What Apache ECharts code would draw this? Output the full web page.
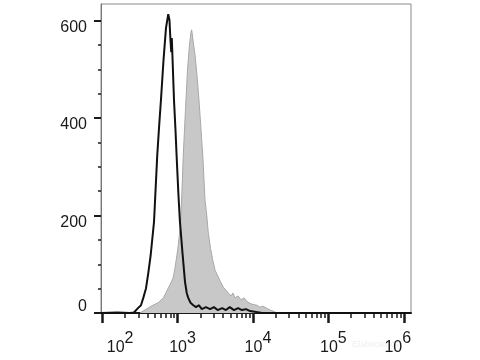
<!DOCTYPE html>
<html>
<head>
<meta charset="utf-8">
<script src="https://cdn.jsdelivr.net/npm/echarts@6/dist/echarts.min.js"></script>
<style>html,body{margin:0;padding:0;background:#fff;}#chart{width:480px;height:360px;}</style>
</head>
<body>
<div id="chart"></div>
<script>
// x values are log10 of fluorescence intensity
const controlLogFL = [1.98, 2.20, 2.367, 2.42, 2.473, 2.513, 2.544, 2.58, 2.61, 2.642, 2.686, 2.729, 2.752, 2.778, 2.812, 2.845, 2.875, 2.891, 2.904, 2.915, 2.922, 2.93, 2.951, 2.971, 2.987, 3.01, 3.03, 3.066, 3.097, 3.12, 3.14, 3.17, 3.207, 3.243, 3.28, 3.32, 3.375, 3.43, 3.48, 3.53, 3.59, 3.64, 3.69, 3.747, 3.80, 3.852, 3.906, 3.96, 4.04, 4.12, 6.09];
const controlCount = [0, 1, 0, 1, 10, 16, 31, 51, 82, 119, 187, 324, 379, 437, 519, 585, 613, 601, 560, 535, 564, 529, 437, 375, 318, 242, 187, 119, 64, 41, 31, 21, 16, 12, 16, 8, 12, 8, 12, 6, 10, 6, 12, 6, 10, 6, 8, 4, 2, 0, 0];

const stainedLogFL = [2.50, 2.54, 2.606, 2.672, 2.74, 2.81, 2.875, 2.91, 2.94, 2.964, 2.99, 3.008, 3.04, 3.057, 3.074, 3.103, 3.13, 3.156, 3.176, 3.186, 3.203, 3.23, 3.256, 3.282, 3.31, 3.336, 3.362, 3.385, 3.406, 3.435, 3.464, 3.495, 3.538, 3.568, 3.605, 3.64, 3.67, 3.707, 3.733, 3.76, 3.80, 3.84, 3.88, 3.92, 3.946, 3.985, 4.048, 4.09, 4.13, 4.18, 4.224, 4.264, 4.317];
const stainedCount = [0, 4, 10, 16, 21, 31, 51, 62, 72, 92, 119, 139, 187, 252, 324, 416, 498, 550, 576, 581, 560, 529, 488, 437, 375, 314, 232, 201, 164, 133, 109, 88, 74, 64, 53, 47, 41, 35, 41, 31, 35, 27, 31, 23, 27, 18, 16, 12, 14, 10, 6, 4, 0];

const decades = [2, 3, 4, 5, 6];
const yTicks = [0, 200, 400, 600];
const yUpperLabels = [200, 400, 600];
const yZeroLabel = [0];
const yMinorTicks = [50, 100, 150, 250, 300, 350, 450, 500, 550];

const minorTicks = [];
for (let d = 2; d < 6; d++) {
  for (let k = 2; k <= 9; k++) minorTicks.push(d + Math.log10(k));
}

const pair = (xs, ys) => xs.map((x, i) => [x, ys[i]]);

const chart = echarts.init(document.getElementById('chart'), null, {renderer: 'canvas'});
const FONT = 'Liberation Sans, Arial, sans-serif';
const INK = '#1a1a1a';
const txt = (extra) => Object.assign({fontSize: 16, fontFamily: FONT, color: INK}, extra);
chart.setOption({
  animation: false,
  backgroundColor: '#fff',
  grid: {left: 101, top: 4, right: 69, bottom: 47, show: true, borderColor: '#8a8a8a', borderWidth: 1},
  xAxis: [{
    type: 'value', min: 1.983, max: 6.094,
    splitLine: {show: false},
    axisLine: {show: true, lineStyle: {color: INK, width: 2}},
    axisTick: {show: true, customValues: decades, length: 10, lineStyle: {color: INK, width: 2.5}},
    axisLabel: {
      show: true, customValues: decades, margin: 18, color: INK, fontFamily: FONT,
      formatter: function (v) {
        const n = Math.round(v);
        if (n === 2) return '{f|10}{s|' + n + '}{sp| }';
        if (n === 6) return '{b|10}{l|' + n + '}{sp| }';
        return '{m|10}{s|' + n + '}{sp| }';
      },
      rich: {
        b: txt({verticalAlign: 'bottom'}),
        m: txt({verticalAlign: 'bottom', padding: [0, 0, 0, 10]}),
        f: txt({verticalAlign: 'bottom', padding: [0, 0, 0, 36]}),
        s: txt({verticalAlign: 'top'}),
        l: txt({verticalAlign: 'top', padding: [0, 12, 0, 0]}),
        sp: {fontSize: 1, lineHeight: 25, fontFamily: FONT}
      }
    }
  }, {
    type: 'value', min: 1.983, max: 6.094, position: 'bottom',
    splitLine: {show: false},
    axisLine: {show: false},
    axisLabel: {show: false},
    axisTick: {show: true, customValues: minorTicks, length: 5, lineStyle: {color: INK, width: 1.5}}
  }],
  yAxis: [{
    type: 'value', min: 0, max: 634,
    splitLine: {show: false},
    axisLine: {show: true, lineStyle: {color: '#777', width: 1}},
    axisTick: {show: true, customValues: yTicks, length: 7, lineStyle: {color: INK, width: 2}},
    axisLabel: {
      customValues: yUpperLabels, margin: 14, color: INK, fontFamily: FONT, fontSize: 16,
      verticalAlign: 'top', lineHeight: 14
    }
  }, {
    type: 'value', min: 0, max: 634, position: 'left',
    splitLine: {show: false},
    axisLine: {show: false},
    axisTick: {show: true, customValues: yMinorTicks, length: 3, lineStyle: {color: INK, width: 1.5}},
    axisLabel: {
      customValues: yZeroLabel, margin: 14, color: INK, fontFamily: FONT, fontSize: 16,
      verticalAlign: 'bottom', lineHeight: 12
    }
  }],
  series: [{
    name: 'stained', type: 'line', xAxisIndex: 0, yAxisIndex: 0, showSymbol: false, symbol: 'none',
    data: pair(stainedLogFL, stainedCount),
    lineStyle: {color: '#a8a8a8', width: 1},
    areaStyle: {color: '#c8c8c8', opacity: 1},
    z: 2
  }, {
    name: 'control', type: 'line', xAxisIndex: 0, yAxisIndex: 0, showSymbol: false, symbol: 'none',
    data: pair(controlLogFL, controlCount),
    lineStyle: {color: '#111', width: 2},
    z: 3
  }],
  graphic: [{
    type: 'text', left: 352, top: 340,
    style: {text: 'Elabscience', fill: '#eeeeee', font: '9px ' + FONT}
  }]
});
</script>
</body>
</html>
